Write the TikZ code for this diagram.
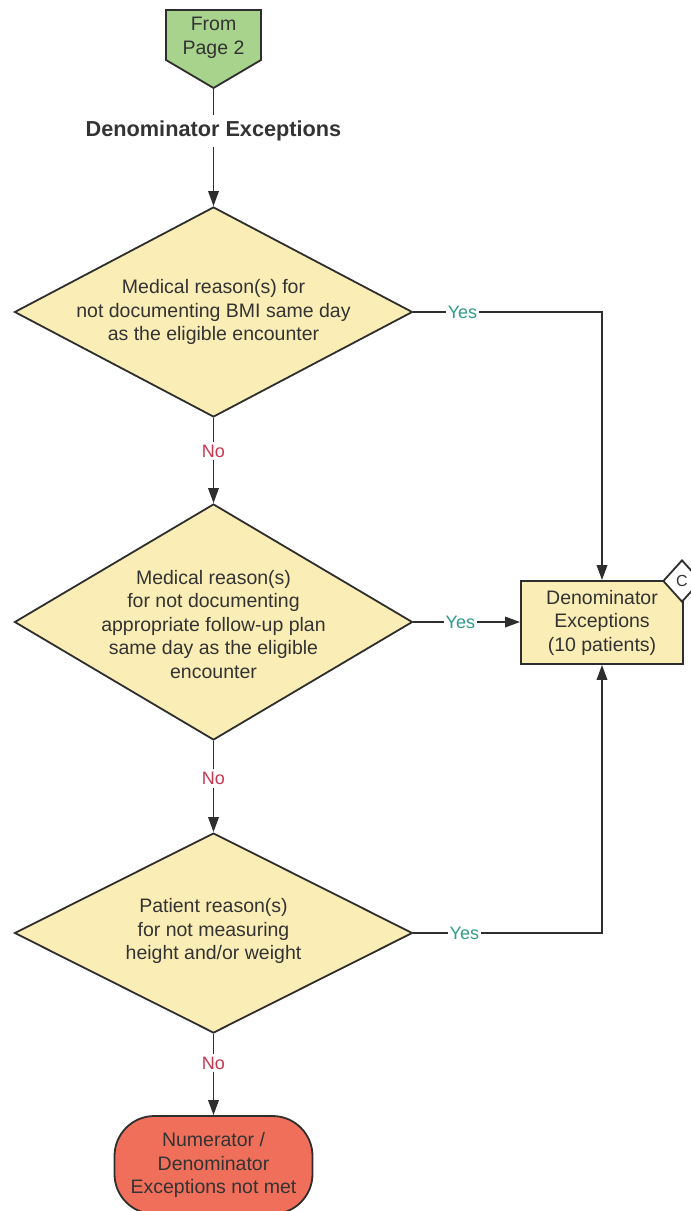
\documentclass[tikz,border=0pt]{standalone}
\usepackage{fontspec}
\setmainfont{Liberation Sans}
\usetikzlibrary{shapes.geometric,arrows.meta}
\definecolor{yel}{HTML}{FAEDB5}
\definecolor{grn}{HTML}{A8D38C}
\definecolor{redc}{HTML}{EF6F5B}
\definecolor{yesc}{HTML}{2E9C8A}
\definecolor{noc}{HTML}{C8354F}
\definecolor{ln}{HTML}{2E2E2E}
\definecolor{txt}{HTML}{333333}
\begin{document}
\begin{tikzpicture}[x=1pt,y=-1pt,
  base/.style={font=\fontsize{19.5}{23.5}\selectfont, text=txt, align=center, inner sep=0pt},
  dia/.style={shape=diamond, draw=ln, line width=1.8pt, fill=yel, inner sep=0pt},
  conn/.style={draw=ln, line width=1.8pt},
  arr/.style={conn, -{Triangle[length=15pt,width=10.5pt]}},
  yesl/.style={fill=white, text=yesc, font=\fontsize{18}{20}\selectfont, inner sep=1.5pt},
  nol/.style={fill=white, text=noc, font=\fontsize{18}{20}\selectfont, inner sep=3pt}]
\useasboundingbox (0,0) rectangle (691,1211);
\clip (0,0) rectangle (691,1211);
% off-page connector
\draw[conn, fill=grn] (166,10) -- (261,10) -- (261,60) -- (213.5,88) -- (166,60) -- cycle;
\node[base] (from) at (213.5,38) {From\\Page 2};
\coordinate (fromtip) at (213.5,88);
% heading
\node[font=\fontsize{21.7}{25}\selectfont\bfseries, text=txt, inner sep=6pt] (head) at (213.5,131) {Denominator Exceptions};
% decisions
\node[dia, minimum width=398, minimum height=210] (d1) at (213.5,312) {};
\node[base] (t1) at (d1) {Medical reason(s) for\\not documenting BMI same day\\as the eligible encounter};
\node[dia, minimum width=398, minimum height=236] (d2) at (213.5,622) {};
\node[base] (t2) at (213.5,624.5) {Medical reason(s)\\for not documenting\\appropriate follow-up plan\\same day as the eligible\\encounter};
\node[dia, minimum width=398, minimum height=200] (d3) at (213.5,933) {};
\node[base] (t3) at (213.5,931) {Patient reason(s)\\for not measuring\\height and/or weight};
% outcome box
\node[draw=ln, line width=1.8pt, fill=yel, minimum width=162, minimum height=83, base] (den) at (602,622.5) {Denominator\\Exceptions\\(10 patients)};
\node[shape=diamond, draw=ln, line width=1.8pt, fill=white, minimum width=38, minimum height=42, inner sep=0pt, text=txt, font=\fontsize{16}{18}\selectfont] (cref) at (682,581) {C};
% terminal
\node[draw=ln, line width=1.8pt, fill=redc, rounded corners=40pt, minimum width=198, minimum height=98, base] (term) at (213.5,1165) {Numerator /\\Denominator\\Exceptions not met};
% connectors
\draw[conn] (fromtip) -- (head);
\draw[arr] (head) -- (d1.north);
\draw[arr] (d1.south) -- node[nol, pos=.39] (no1) {No} (d2.north);
\draw[arr] (d2.south) -- node[nol, pos=.41] (no2) {No} (d3.north);
\draw[arr] (d3.south) -- node[nol, pos=.36] (no3) {No} (term.north);
\draw[arr] (d1.east) -- node[yesl, pos=.26] (yes1) {Yes} (d1.east -| den.north) -- (den.north);
\draw[arr] (d2.east) -- node[yesl, pos=.44] (yes2) {Yes} (d2.east -| den.west);
\draw[arr] (d3.east) -- node[yesl, pos=.27] (yes3) {Yes} (d3.east -| den.south) -- (den.south);
\end{tikzpicture}
\end{document}
